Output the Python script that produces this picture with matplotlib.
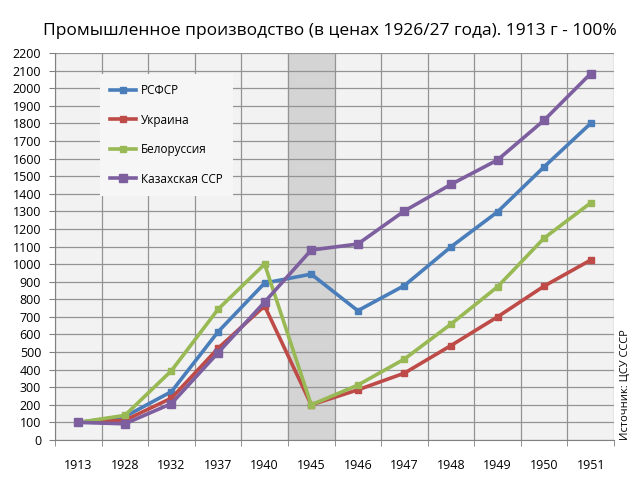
import matplotlib
matplotlib.use("Agg")
import matplotlib.pyplot as plt
import numpy as np

years = ["1913", "1928", "1932", "1937", "1940", "1945", "1946", "1947", "1948", "1949", "1950", "1951"]
rsfsr = [100, 133, 275, 615, 892, 943, 735, 878, 1098, 1297, 1553, 1800]
ukraine = [100, 112, 238, 521, 762, 200, 285, 380, 537, 700, 875, 1023]
belarus = [100, 140, 394, 743, 1000, 200, 312, 460, 659, 871, 1148, 1348]
kazakh = [100, 92, 207, 496, 784, 1080, 1114, 1302, 1453, 1592, 1818, 2083]
series_names = ["РСФСР", "Украина", "Белоруссия", "Казахская ССР"]
title = "Промышленное производство (в ценах 1926/27 года). 1913 г - 100%"
source = "Источник: ЦСУ СССР"

colors = ["#4a7ebb", "#be4b48", "#98b954", "#7d5fa0"]

plt.rcParams['font.family'] = ['Open Sans', 'DejaVu Sans']

fig = plt.figure(figsize=(6.4, 4.8), dpi=100)
ax = fig.add_axes([55/640, 40/480, 559/640, 387/480])
ax.set_facecolor("#f2f2f2")

x = np.arange(len(years))
# shaded war period (1945 column)
ax.axvspan(5 - 0.5, 5 + 0.5, color="#d4d4d4", zorder=0.5)

data = [rsfsr, ukraine, belarus, kazakh]
msizes = [4.5, 4.5, 4.5, 6]
for vals, c, name, ms in zip(data, colors, series_names, msizes):
    ax.plot(x, vals, color=c, lw=2.6, marker="s", ms=ms, label=name, zorder=3,
            solid_joinstyle="round")

ax.set_xlim(-0.5, len(years) - 0.5)
ax.set_ylim(0, 2200)
ax.set_yticks(np.arange(0, 2201, 100))
ax.set_xticks(x)
ax.set_xticklabels(years)
ax.set_xticks(np.arange(-0.5, len(years), 1), minor=True)
ax.tick_params(axis="x", which="major", length=0, pad=14, labelsize=9)
ax.tick_params(axis="x", which="minor", length=4, direction="out", color="#808080")
ax.tick_params(axis="y", length=4, direction="out", color="#808080", labelsize=9, pad=6)

ax.grid(True, axis="y", color="#939393", lw=0.9, zorder=1)
ax.grid(True, axis="x", which="minor", color="#939393", lw=0.9, zorder=1)
ax.set_axisbelow(True)
for s in ["top", "right"]:
    ax.spines[s].set_visible(False)
for s in ["left", "bottom"]:
    ax.spines[s].set_color("#808080")

leg = ax.legend(loc="upper left", bbox_to_anchor=(45/559, 1 - 21/387), frameon=True,
                fontsize=8.5, labelspacing=1.4, handlelength=2.2, handletextpad=0.4,
                borderpad=0.85, borderaxespad=0, fancybox=False)
leg.get_frame().set_facecolor("#f6f6f6")
leg.get_frame().set_edgecolor("none")
leg.get_frame().set_alpha(1)

fig.text(0.516, 1 - 31/480, title, ha="center", va="center", fontsize=12.5)
fig.text(0.978, 40/480, source, rotation=90, ha="center", va="bottom", fontsize=8)

fig.savefig("out.png", dpi=100, facecolor="white")
